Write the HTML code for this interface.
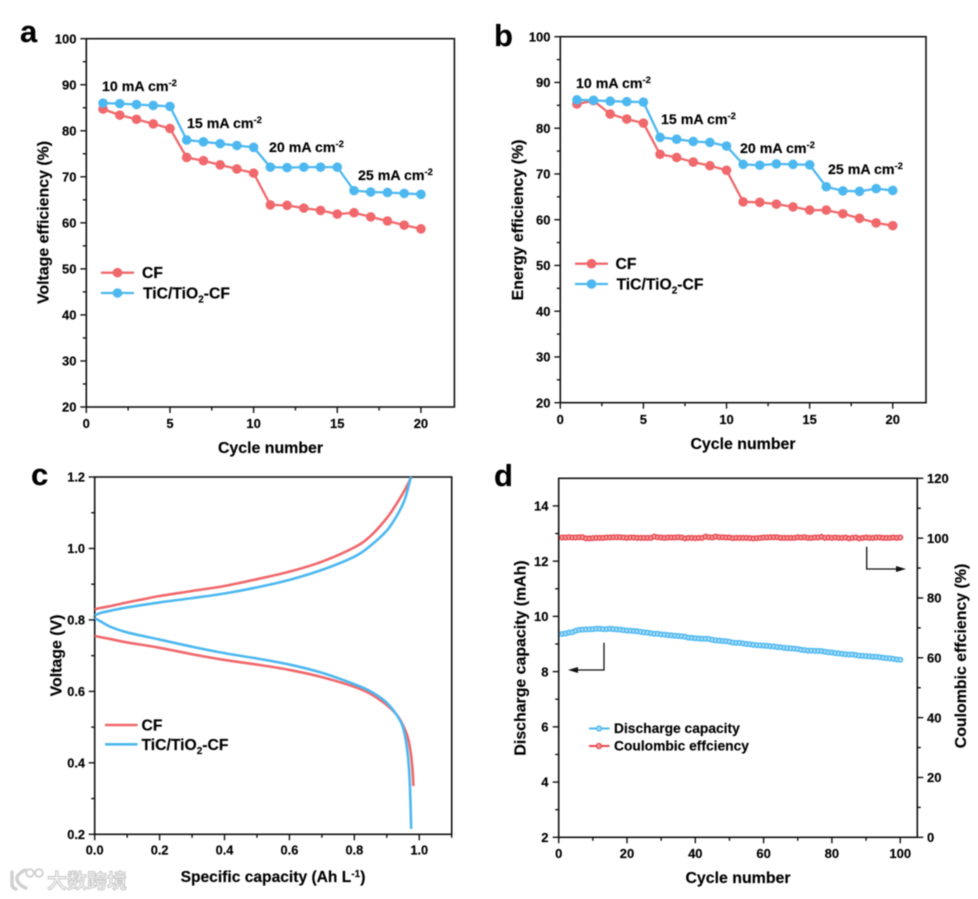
<!DOCTYPE html>
<html lang="en">
<head>
<meta charset="utf-8">
<title>Battery performance charts</title>
<style>
html,body{margin:0;padding:0;background:#fff;}
svg{display:block;filter:blur(0.4px);}
text{font-family:"Liberation Sans","Noto Sans CJK SC",sans-serif;font-weight:bold;fill:#000;stroke:#000;stroke-width:.15px;}
.title{font-size:15.9px;}
.leg{font-size:15.7px;}
.ann{font-size:14.2px;}
.letter{font-size:31px;fill:#000;}
</style>
</head>
<body>
<svg id="fig" xmlns="http://www.w3.org/2000/svg" width="978" height="899" viewBox="0 0 978 899">
  <text class="letter" x="20" y="42">a</text>
  <text class="letter" x="494" y="46">b</text>
  <text class="letter" x="31" y="485">c</text>
  <text class="letter" x="494" y="486">d</text>

  <text class="title" x="270.5" y="453" text-anchor="middle">Cycle number</text>
  <text class="title" transform="translate(48.5,222.5) rotate(-90)" text-anchor="middle">Voltage efficiency (%)</text>
  <text class="ann" x="102" y="91">10 mA cm<tspan font-size="9.5" dy="-5">-2</tspan></text>
  <text class="ann" x="187" y="128">15 mA cm<tspan font-size="9.5" dy="-5">-2</tspan></text>
  <text class="ann" x="269" y="152">20 mA cm<tspan font-size="9.5" dy="-5">-2</tspan></text>
  <text class="ann" x="358" y="180">25 mA cm<tspan font-size="9.5" dy="-5">-2</tspan></text>

  <text class="title" x="743" y="449" text-anchor="middle">Cycle number</text>
  <text class="title" transform="translate(523,220) rotate(-90)" text-anchor="middle">Energy efficiency (%)</text>
  <text class="ann" x="576" y="88">10 mA cm<tspan font-size="9.5" dy="-5">-2</tspan></text>
  <text class="ann" x="661" y="124">15 mA cm<tspan font-size="9.5" dy="-5">-2</tspan></text>
  <text class="ann" x="740" y="153">20 mA cm<tspan font-size="9.5" dy="-5">-2</tspan></text>
  <text class="ann" x="828" y="174">25 mA cm<tspan font-size="9.5" dy="-5">-2</tspan></text>

  <text class="title" x="273" y="882" text-anchor="middle" font-size="15.6" style="font-size:15.6px">Specific capacity (Ah L<tspan font-size="10" dy="-5">-1</tspan><tspan dy="5">)</tspan></text>
  <text class="title" transform="translate(61.5,655.5) rotate(-90)" text-anchor="middle">Voltage (V)</text>

  <text class="title" x="738" y="883" text-anchor="middle">Cycle number</text>
  <text class="title" transform="translate(525.5,658) rotate(-90)" text-anchor="middle">Discharge capacity (mAh)</text>
  <text class="title" transform="translate(966,656) rotate(-90)" text-anchor="middle">Coulombic effciency (%)</text>

  <g>
    <line x1="101" x2="134" y1="272.7" y2="272.7" stroke="#f0686c" stroke-width="2.3"/>
    <circle cx="117.5" cy="272.7" r="4.8" fill="#f0686c"/>
    <text class="leg" x="142" y="278">CF</text>
    <line x1="101" x2="134" y1="293" y2="293" stroke="#4db8f0" stroke-width="2.3"/>
    <circle cx="117.5" cy="293" r="4.8" fill="#4db8f0"/>
    <text class="leg" x="143" y="298.5">TiC/TiO<tspan font-size="10" dy="4">2</tspan><tspan dy="-4">-CF</tspan></text>
  </g>
  <g>
    <line x1="575" x2="608" y1="263.7" y2="263.7" stroke="#f0686c" stroke-width="2.3"/>
    <circle cx="591.5" cy="263.7" r="4.8" fill="#f0686c"/>
    <text class="leg" x="615.5" y="269">CF</text>
    <line x1="575" x2="608" y1="284" y2="284" stroke="#4db8f0" stroke-width="2.3"/>
    <circle cx="591.5" cy="284" r="4.8" fill="#4db8f0"/>
    <text class="leg" x="616.5" y="289.5">TiC/TiO<tspan font-size="10" dy="4">2</tspan><tspan dy="-4">-CF</tspan></text>
  </g>
  <g>
    <line x1="105" x2="137.5" y1="725" y2="725" stroke="#f0686c" stroke-width="2.6"/>
    <text class="leg" x="141.5" y="730.5">CF</text>
    <line x1="105" x2="137.5" y1="744.3" y2="744.3" stroke="#4db8f0" stroke-width="2.6"/>
    <text class="leg" x="141.5" y="750">TiC/TiO<tspan font-size="10" dy="4">2</tspan><tspan dy="-4">-CF</tspan></text>
  </g>
  <g>
    <line x1="589" x2="609.5" y1="728.5" y2="728.5" stroke="#4db8f0" stroke-width="1.9"/>
    <circle cx="599" cy="728.5" r="2.4" fill="#a8dcf8" stroke="#4db8f0" stroke-width="1.4"/>
    <text font-size="13.8" x="614" y="733">Discharge capacity</text>
    <line x1="589" x2="609.5" y1="746" y2="746" stroke="#e8484e" stroke-width="1.9"/>
    <circle cx="599" cy="746" r="2.4" fill="#f4a0a2" stroke="#e8484e" stroke-width="1.4"/>
    <text font-size="13.8" x="614" y="750.5">Coulombic effciency</text>
  </g>
  <g fill="none" stroke="#111" stroke-width="1.3">
    <path d="M604 642.7V670H572"/>
    <path d="M568 670l10-3v6z" fill="#111" stroke="none"/>
  </g>
  <g fill="none" stroke="#111" stroke-width="1.3">
    <path d="M866.7 546.7V569H902"/>
    <path d="M906 569l-10-3v6z" fill="#111" stroke="none"/>
  </g>
  <g>
    <path d="M12 872v12q0 4 4 5M25 870q-9 5-8 9q1 6 9 9" fill="none" stroke="#d0d0d0" stroke-width="3.4" stroke-linecap="round"/>
    <circle cx="30" cy="873" r="3.8" fill="#fff" stroke="#d0d0d0" stroke-width="1.8"/>
    <circle cx="39" cy="873" r="3.8" fill="#fff" stroke="#d0d0d0" stroke-width="1.8"/>
    <text x="47" y="888" font-size="20" style="fill:#f2f2f2;stroke:#c8c8c8;stroke-width:.9px">大数跨境</text>
  </g>
</svg>
<script>
const cycles = [1,2,3,4,5,6,7,8,9,10,11,12,13,14,15,16,17,18,19,20];
const voltageCF = [84.7,83.4,82.5,81.5,80.5,74.2,73.5,72.6,71.7,70.8,63.9,63.8,63.2,62.7,61.9,62.2,61.3,60.4,59.5,58.7];
const voltageTi = [86,85.9,85.7,85.5,85.3,78,77.6,77.2,76.8,76.4,72.1,72,72.1,72.1,72.1,67,66.7,66.6,66.4,66.2];
const energyCF = [85.3,86,83.1,82,81.1,74.3,73.6,72.6,71.8,70.8,63.9,63.8,63.4,62.8,62.1,62.1,61.3,60.3,59.3,58.7];
const energyTi = [86.2,86.1,85.9,85.8,85.7,78,77.6,77.1,76.9,76.1,72.1,71.9,72.2,72.1,72,67.2,66.3,66.2,66.8,66.4];

const cfChargeCap = [0,.02,.05,.1,.15,.2,.3,.4,.5,.6,.7,.8,.85,.9,.93,.95,.965,.975];
const cfChargeV = [.83,.834,.839,.849,.858,.867,.881,.895,.914,.935,.963,1.003,1.035,1.085,1.125,1.155,1.18,1.2];
const tiChargeCap = [0,.02,.05,.1,.2,.3,.4,.5,.6,.7,.8,.85,.9,.93,.95,.96,.97,.975];
const tiChargeV = [.813,.82,.826,.835,.849,.861,.874,.891,.912,.94,.977,1.008,1.05,1.09,1.125,1.15,1.185,1.2];
const cfDischargeCap = [0,.05,.1,.2,.3,.4,.5,.6,.7,.8,.85,.9,.93,.95,.965,.975,.98,.982];
const cfDischargeV = [.755,.746,.737,.722,.704,.688,.675,.66,.64,.613,.593,.562,.535,.505,.47,.42,.37,.335];
const tiDischargeCap = [0,.02,.05,.1,.2,.3,.4,.5,.6,.7,.8,.85,.9,.94,.955,.965,.97,.973,.975];
const tiDischargeV = [.805,.795,.78,.765,.745,.725,.707,.692,.675,.652,.62,.6,.568,.52,.48,.42,.36,.29,.215];

const capacity = [9.36,9.38,9.41,9.43,9.48,9.51,9.52,9.53,9.53,9.54,9.55,9.55,9.54,9.54,9.55,9.54,9.53,9.52,9.50,9.49,
9.48,9.47,9.46,9.44,9.42,9.41,9.39,9.37,9.37,9.35,9.34,9.32,9.31,9.30,9.29,9.28,9.26,9.23,9.22,9.21,
9.20,9.19,9.19,9.18,9.15,9.13,9.12,9.11,9.10,9.08,9.05,9.04,9.04,9.02,9.00,8.99,8.97,8.96,8.95,8.94,
8.93,8.92,8.91,8.89,8.88,8.86,8.85,8.84,8.83,8.82,8.79,8.78,8.76,8.76,8.75,8.75,8.74,8.72,8.70,8.69,
8.67,8.66,8.64,8.63,8.62,8.62,8.60,8.58,8.57,8.56,8.55,8.54,8.54,8.52,8.50,8.49,8.48,8.46,8.44,8.43];
const coulombic = [100.2,100.2,100.3,100.2,100.2,100.3,100.3,99.9,99.9,100,100.1,100.1,100.1,100.2,100.2,100.3,100.3,100.3,100.2,100.1,
100.2,100.2,100.1,100.1,100.1,100.1,100.1,100.5,100.3,100.2,100.1,100.2,100.2,100.2,100.3,100.2,99.9,100.1,100.1,100,
100.1,100.1,100.5,100.3,100.2,100.5,100.3,100.3,100.2,100.2,100,100.1,100.1,100.1,100.1,100,99.9,100,100.1,100.2,
100.2,100.3,100.3,100.3,100.1,100.1,100.1,100.1,100.1,100.3,100.2,100.3,100.1,100.1,100.2,100.2,100.4,100.1,100.2,100.1,
100.2,100.1,100.1,100.2,99.9,100.1,100.2,99.9,100.1,100.2,100.1,100.1,100.2,100.2,100.1,100.1,100.1,100.2,100.1,100.2];

const efficiencyTicks = [20,30,40,50,60,70,80,90,100];
const cycleTicks = [0,5,10,15,20];
const voltageTicks = ["0.2","0.4","0.6","0.8","1.0","1.2"];
const specificCapacityTicks = ["0.0","0.2","0.4","0.6","0.8","1.0"];
const longCycleTicks = [0,20,40,60,80,100];
const dischargeTicks = [2,4,6,8,10,12,14];
const coulombicTicks = [0,20,40,60,80,100,120];

const NS = "http://www.w3.org/2000/svg";
const RED = "#f0686c", BLUE = "#4db8f0", CE = "#e8484e", INK = "#111";
const fig = document.getElementById("fig");

function make(tag, parent, attrs, text) {
  const node = document.createElementNS(NS, tag);
  for (const k in attrs) node.setAttribute(k, attrs[k]);
  if (text !== undefined) node.textContent = text;
  parent.appendChild(node);
  return node;
}
function scale(d0, d1, r0, r1) {
  return v => r0 + (v - d0) * (r1 - r0) / (d1 - d0);
}
function group(name, parent) {
  const g = make("g", parent || fig, {});
  
  
  return g;
}
function drawFrame(p, g) {
  const frame = make("rect", g, {x:p.left, y:p.top, width:p.right-p.left, height:p.bottom-p.top, fill:"none", stroke:INK, "stroke-width":1.6});
  
  
}
function tickLine(g, name, x1, y1, x2, y2) {
  const t = make("line", g, {x1, y1, x2, y2, stroke:INK, "stroke-width":1.4});
  
  
}
function label(g, name, x, y, anchor, str, size) {
  const t = make("text", g, {x, y, "text-anchor":anchor, "font-size":size}, str);
  
  
}
function xAxis(p, x, ticks, baseline, size) {
  const g = group(p.id + "-x-axis");
  ticks.forEach((v, i) => {
    tickLine(g, p.id + "-x-tick", x(+v), p.bottom, x(+v), p.bottom + 6);
    label(g, p.id + "-x-tick-label", x(+v), baseline, "middle", String(v), size);
    const next = i + 1 < ticks.length ? (+v + +ticks[i+1]) / 2 : +v + (+ticks[1] - +ticks[0]) / 2;
    if (x(next) <= p.right) tickLine(g, p.id + "-x-minor-tick", x(next), p.bottom, x(next), p.bottom + 3.5);
  });
}
function yAxis(p, y, ticks, side, labelX, size) {
  const g = group(p.id + "-" + side + "-y-axis");
  const edge = side === "left" ? p.left : p.right;
  const dir = side === "left" ? -1 : 1;
  ticks.forEach((v, i) => {
    tickLine(g, p.id + "-y-tick", edge, y(+v), edge + dir * 6, y(+v));
    label(g, p.id + "-y-tick-label", labelX, y(+v) + size * 0.36, side === "left" ? "end" : "start", String(v), size);
    if (i + 1 < ticks.length) {
      const mid = (+v + +ticks[i+1]) / 2;
      tickLine(g, p.id + "-y-minor-tick", edge, y(mid), edge + dir * 3.5, y(mid));
    }
  });
}
function series(g, name, xs, ys, x, y, color, width, r, fill, sw) {
  const pts = xs.map((v, i) => x(v).toFixed(2) + "," + y(ys[i]).toFixed(2)).join(" ");
  const line = make("polyline", g, {points:pts, fill:"none", stroke:color, "stroke-width":width, "stroke-linejoin":"round"});
  
  
  xs.forEach((v, i) => {
    const c = make("circle", g, {cx:x(v), cy:y(ys[i]), r, fill, stroke: sw ? color : "none", "stroke-width": sw || 0});
    
    
  });
}
function curve(g, name, xs, ys, x, y, color, width) {
  const P = xs.map((v, i) => [x(v), y(ys[i])]);
  let d = "M" + P[0][0].toFixed(2) + " " + P[0][1].toFixed(2);
  for (let i = 0; i < P.length - 1; i++) {
    const a = P[Math.max(i - 1, 0)], b = P[i], c = P[i + 1], e = P[Math.min(i + 2, P.length - 1)];
    const c1x = b[0] + (c[0] - a[0]) / 6, c1y = b[1] + (c[1] - a[1]) / 6;
    const c2x = c[0] - (e[0] - b[0]) / 6, c2y = c[1] - (e[1] - b[1]) / 6;
    d += "C" + c1x.toFixed(2) + " " + c1y.toFixed(2) + " " + c2x.toFixed(2) + " " + c2y.toFixed(2) + " " + c[0].toFixed(2) + " " + c[1].toFixed(2);
  }
  const path = make("path", g, {d, fill:"none", stroke:color, "stroke-width":width});
  
  
}

/* panel a */
const pa = {id:"a", left:86.3, right:454.4, top:38.7, bottom:407};
const ax = scale(0, 22, pa.left, pa.right), ay = scale(20, 100, pa.bottom, pa.top);
const ga = group("a-plot");
drawFrame(pa, ga);
xAxis(pa, ax, cycleTicks, 428, 13);
yAxis(pa, ay, efficiencyTicks, "left", 76.5, 13);
series(ga, "a-cf", cycles, voltageCF, ax, ay, RED, 2.3, 4.8, RED);
series(ga, "a-tic", cycles, voltageTi, ax, ay, BLUE, 2.3, 4.8, BLUE);

/* panel b */
const pb = {id:"b", left:560.3, right:926, top:36.7, bottom:402.7};
const bx = scale(0, 22, pb.left, pb.right), by = scale(20, 100, pb.bottom, pb.top);
const gb = group("b-plot");
drawFrame(pb, gb);
xAxis(pb, bx, cycleTicks, 424, 13);
yAxis(pb, by, efficiencyTicks, "left", 550.5, 13);
series(gb, "b-cf", cycles, energyCF, bx, by, RED, 2.3, 4.8, RED);
series(gb, "b-tic", cycles, energyTi, bx, by, BLUE, 2.3, 4.8, BLUE);

/* panel c */
const pc = {id:"c", left:94.7, right:451.7, top:477, bottom:834.3};
const cx = scale(0, 1.1, pc.left, pc.right), cy = scale(0.2, 1.2, pc.bottom, pc.top);
const gc = group("c-plot");
drawFrame(pc, gc);
xAxis(pc, cx, specificCapacityTicks, 854.5, 12.8);
yAxis(pc, cy, voltageTicks, "left", 85, 12.8);
curve(gc, "c-cf-charge", cfChargeCap, cfChargeV, cx, cy, RED, 2.6);
curve(gc, "c-cf-discharge", cfDischargeCap, cfDischargeV, cx, cy, RED, 2.6);
curve(gc, "c-tic-charge", tiChargeCap, tiChargeV, cx, cy, BLUE, 2.6);
curve(gc, "c-tic-discharge", tiDischargeCap, tiDischargeV, cx, cy, BLUE, 2.6);

/* panel d */
const pd = {id:"d", left:558.7, right:917.3, top:478.3, bottom:837.3};
const dx = scale(0, 105, pd.left, pd.right);
const dy = scale(2, 15, pd.bottom, pd.top);
const dy2 = scale(0, 120, pd.bottom, pd.top);
const gd = group("d-plot");
drawFrame(pd, gd);
xAxis(pd, dx, longCycleTicks, 858, 13);
yAxis(pd, dy, dischargeTicks, "left", 548.5, 13);
yAxis(pd, dy2, coulombicTicks, "right", 927, 13);
const longCycles = capacity.map((_, i) => i + 1);
series(gd, "d-capacity", longCycles, capacity, dx, dy, BLUE, 1.4, 2.3, "#a8dcf8", 1.4);
series(gd, "d-coulombic", longCycles, coulombic, dx, dy2, CE, 1.4, 2.3, "#f4a0a2", 1.4);
</script>
</body>
</html>
